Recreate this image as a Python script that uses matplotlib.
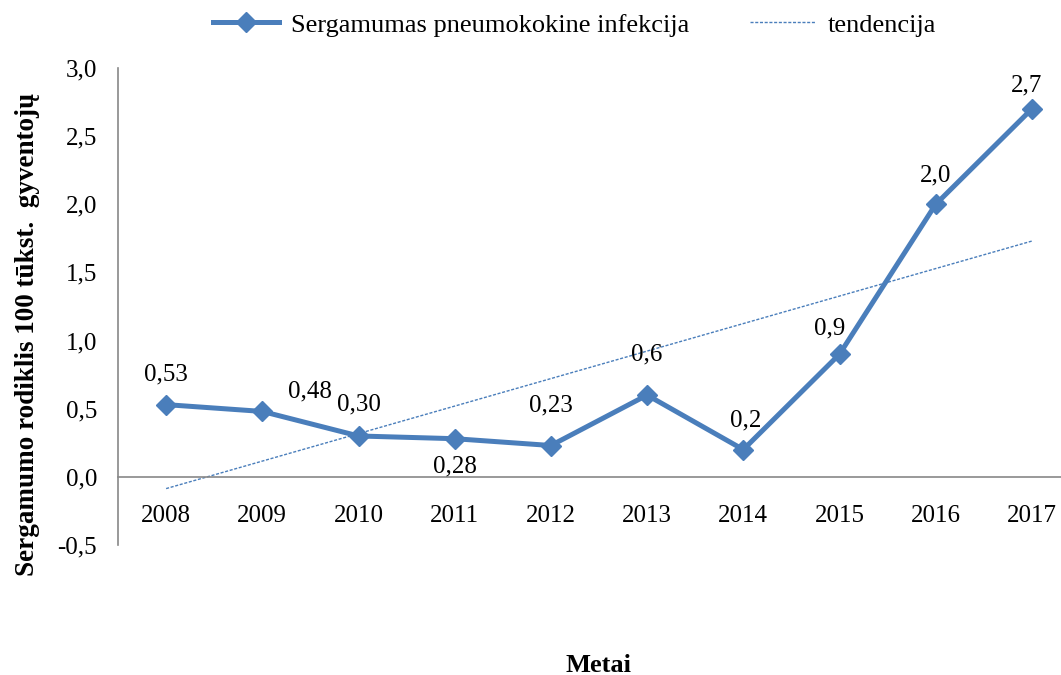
import matplotlib
matplotlib.use("Agg")
import matplotlib.pyplot as plt
import numpy as np

years = ["2008", "2009", "2010", "2011", "2012", "2013", "2014", "2015", "2016", "2017"]
values = [0.53, 0.48, 0.30, 0.28, 0.23, 0.6, 0.2, 0.9, 2.0, 2.7]
value_labels = ["0,53", "0,48", "0,30", "0,28", "0,23", "0,6", "0,2", "0,9", "2,0", "2,7"]
yticks = [-0.5, 0.0, 0.5, 1.0, 1.5, 2.0, 2.5, 3.0]
ytick_labels = ["-0,5", "0,0", "0,5", "1,0", "1,5", "2,0", "2,5", "3,0"]

series_name = "Sergamumas pneumokokine infekcija"
trend_name = "tendencija"
ylabel = "Sergamumo rodiklis 100 tūkst.  gyventojų"
xlabel = "Metai"

plt.rcParams['font.family'] = ['Liberation Serif', 'DejaVu Serif']

W, H = 1061, 675
fig = plt.figure(figsize=(W / 100, H / 100), dpi=100)
ax = fig.add_axes([118 / W, 1 - 545 / H, (1080 - 118) / W, (545 - 68) / H])

for s in ["top", "right"]:
    ax.spines[s].set_visible(False)
ax.spines["bottom"].set_position(("data", 0))
ax.spines["bottom"].set_color("#888888")
ax.spines["left"].set_color("#888888")
ax.spines["bottom"].set_linewidth(1.2)
ax.spines["left"].set_linewidth(1.2)
ax.set_facecolor("none")

x = np.arange(len(years))
color = "#4a7ebb"

line, = ax.plot(x, values, color=color, lw=3.6, marker="D", markersize=10.5,
                solid_joinstyle="round", zorder=3, label=series_name)

coef = np.polyfit(x, values, 1)
trend = np.polyval(coef, x)
tline, = ax.plot(x, trend, color=color, lw=1.0, linestyle=(0, (2.2, 1.2)), zorder=2,
                 label=trend_name)

# label offsets in pixels (dx, dy)
offsets = [(0, 30), (48, 20), (0, 32), (0, -28), (0, 40), (0, 41), (2, 29), (-10, 26), (0, 29), (-5, 23)]
for xi, v, lab, (dx, dy) in zip(x, values, value_labels, offsets):
    ax.annotate(lab, (xi, v), xytext=(dx, dy), textcoords="offset pixels",
                ha="center", va="center", fontsize=18, color="black")

ax.set_xlim(-0.5, len(years) - 0.5)
ax.set_ylim(-0.5, 3.0)
ax.set_yticks(yticks)
ax.set_yticklabels(ytick_labels, fontsize=18)
ax.set_xticks(x)
ax.set_xticklabels(years, fontsize=18)
ax.tick_params(axis="both", length=0)
ax.tick_params(axis="y", pad=15)
ax.tick_params(axis="x", pad=20)

fig.legend(handles=[line, tline], loc="center", bbox_to_anchor=(575 / W, 1 - 25 / H),
           ncol=2, frameon=False, fontsize=19, handlelength=2.5, columnspacing=2.3,
           handletextpad=0.45)

fig.text(28 / W, 1 - 334 / H, ylabel, rotation=90, ha="center", va="center",
         fontsize=19.5, fontweight="bold")
fig.text(598 / W, 1 - 665 / H, xlabel, ha="center", va="center",
         fontsize=19, fontweight="bold")

fig.savefig("out.png", dpi=100)
